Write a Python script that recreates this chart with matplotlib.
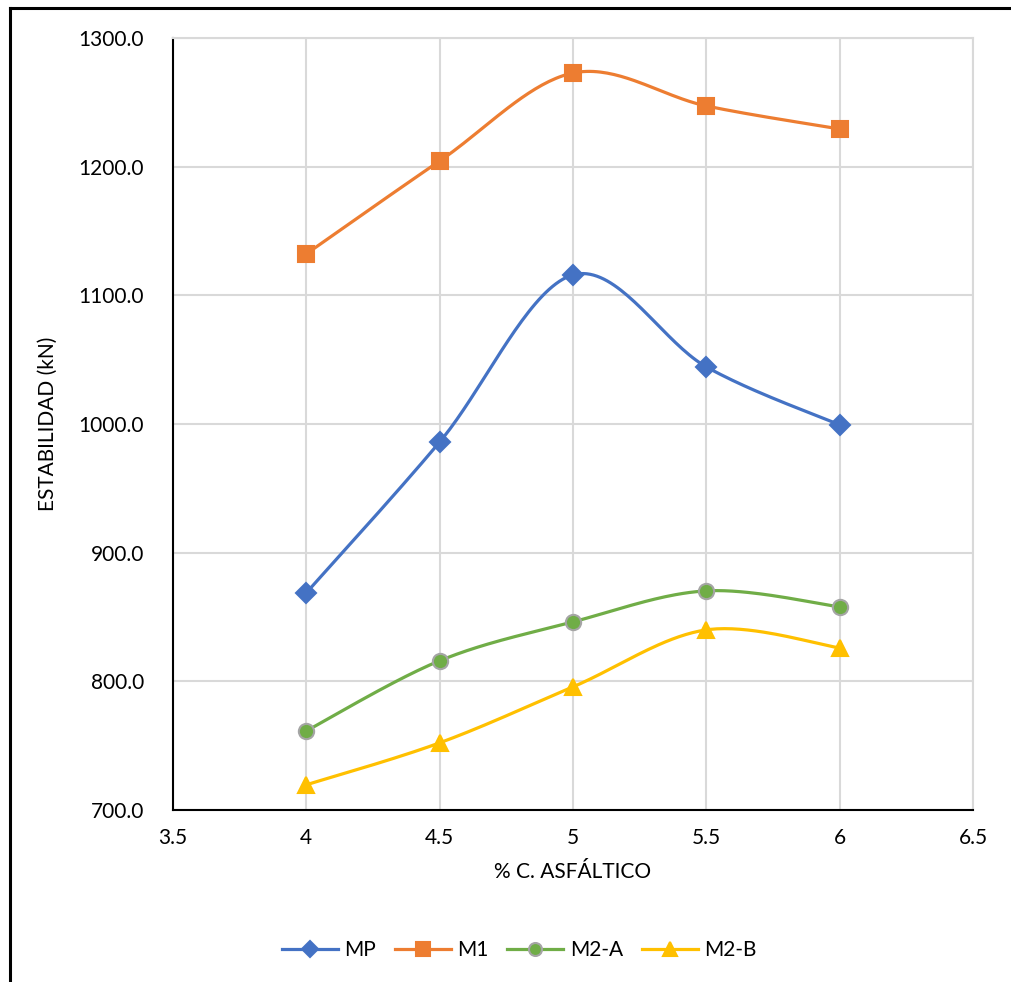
import numpy as np
import matplotlib
matplotlib.use("Agg")
import matplotlib.pyplot as plt
from matplotlib.lines import Line2D

plt.rcParams['font.family'] = ['Lato', 'DejaVu Sans']

x_vals = [4, 4.5, 5, 5.5, 6]
mp = [868.8, 986.0, 1115.9, 1044.4, 999.3]
m1 = [1132.2, 1204.4, 1272.8, 1247.2, 1229.3]
m2a = [761.5, 816.0, 846.2, 870.3, 857.9]
m2b = [719.6, 752.2, 795.7, 840.0, 826.0]
x_ticks = [3.5, 4, 4.5, 5, 5.5, 6, 6.5]
y_ticks = [700, 800, 900, 1000, 1100, 1200, 1300]


def smooth(xs, ys, n=40):
    P = np.column_stack([xs, ys]).astype(float)
    out = [P[0]]
    m = len(P)
    for i in range(m - 1):
        p0 = P[i - 1] if i > 0 else P[i]
        p1 = P[i]
        p2 = P[i + 1]
        p3 = P[i + 2] if i + 2 < m else P[i + 1]
        c1 = p1 + (p2 - p0) / 6.0
        c2 = p2 - (p3 - p1) / 6.0
        t = np.linspace(0, 1, n)[1:, None]
        b = ((1 - t) ** 3) * p1 + 3 * ((1 - t) ** 2) * t * c1 + 3 * (1 - t) * t ** 2 * c2 + t ** 3 * p2
        out.extend(b)
    out = np.array(out)
    return out[:, 0], out[:, 1]


W, H = 1012, 982
fig = plt.figure(figsize=(W / 100, H / 100), dpi=100)
ax = fig.add_axes([173 / W, 1 - 810 / H, (973 - 173) / W, (810 - 38) / H])

series = [
    ("MP", mp, "#4472C4", "D", 10, "#4472C4"),
    ("M1", m1, "#ED7D31", "s", 11.5, "#ED7D31"),
    ("M2-A", m2a, "#70AD47", "o", 11, "#A5A5A5"),
    ("M2-B", m2b, "#FFC000", "^", 12, "#FFC000"),
]
handles = []
for name, ys, col, mk, ms, ec in series:
    sx, sy = smooth(x_vals, ys)
    ax.plot(sx, sy, color=col, lw=2.3, zorder=3, solid_capstyle='round')
    ax.plot(x_vals, ys, ls='none', marker=mk, markersize=ms, color=col,
            markeredgecolor=ec, markeredgewidth=1.5, zorder=4)
    handles.append(Line2D([0], [0], color=col, lw=2.3, marker=mk, markersize=ms * 0.85,
                          markerfacecolor=col, markeredgecolor=ec, markeredgewidth=1.5))

ax.set_xlim(3.5, 6.5)
ax.set_ylim(700, 1300)
ax.set_xticks(x_ticks)
ax.set_xticklabels([f"{v:g}" for v in x_ticks])
ax.set_yticks(y_ticks)
ax.set_yticklabels([f"{v:.1f}" for v in y_ticks])
ax.grid(True, color="#D9D9D9", lw=1.5, zorder=0)
ax.set_axisbelow(True)
for s in ['top', 'right']:
    ax.spines[s].set_color("#D9D9D9")
    ax.spines[s].set_linewidth(1.5)
for s in ['left', 'bottom']:
    ax.spines[s].set_color("black")
    ax.spines[s].set_linewidth(1.5)
ax.tick_params(length=0, labelsize=15, pad=13)
ax.tick_params(axis='y', pad=21)
ax.set_xlabel("% C. ASFÁLTICO", fontsize=15, labelpad=10)
ax.set_ylabel("ESTABILIDAD (kN)", fontsize=15, labelpad=15)

fig.legend(handles, ["MP", "M1", "M2-A", "M2-B"], loc='center',
           bbox_to_anchor=(519 / W, 1 - 950 / H), ncol=4, frameon=False,
           fontsize=15, handlelength=2.7, columnspacing=0.9, handletextpad=0.3)

# outer frame (left and top)
fig.add_artist(Line2D([10 / W, 10 / W], [0, 1 - 8 / H], color='black', lw=2.2,
                      transform=fig.transFigure))
fig.add_artist(Line2D([10 / W, 1], [1 - 8 / H, 1 - 8 / H], color='black', lw=2.2,
                      transform=fig.transFigure))

fig.savefig("out.png", dpi=100)
